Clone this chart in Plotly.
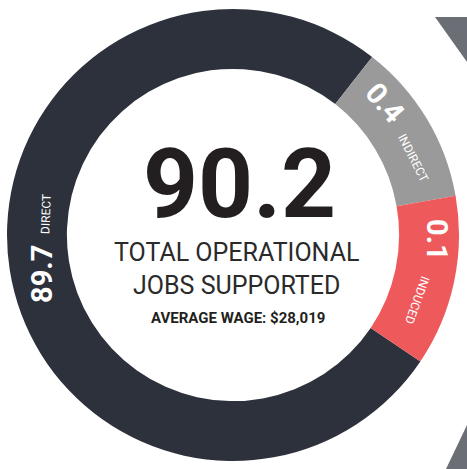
import plotly.graph_objects as go

W, H = 467, 469

# Data
categories = ["DIRECT", "INDIRECT", "INDUCED"]
jobs = [89.7, 0.4, 0.1]
total_jobs = 90.2
average_wage = "$28,019"
# The infographic does not draw arcs to scale; share of ring each segment occupies (degrees)
drawn_share = [274, 42, 44]

colors = ["#2c313b", "#9a9a9a", "#ee5a5c"]

fig = go.Figure()

cx, cy, R = 233, 235, 226
fig.add_trace(go.Pie(
    values=drawn_share,
    labels=categories,
    customdata=jobs,
    sort=False,
    direction="clockwise",
    rotation=124,
    hole=0.735,
    marker=dict(colors=colors, line=dict(width=0)),
    textinfo="none",
    hovertemplate="%{label}: %{customdata}<extra></extra>",
    showlegend=False,
    domain=dict(x=[(cx - R) / W, (cx + R) / W], y=[(H - cy - R) / H, (H - cy + R) / H]),
))

def px(x, y):
    return x / W, 1 - y / H

anns = []
def add(text, x, y, size, color="white", angle=0, family="Roboto", bold=False):
    ax, ay = px(x, y)
    t = f"<b>{text}</b>" if bold else text
    anns.append(dict(text=t, x=ax, y=ay, xref="paper", yref="paper", showarrow=False,
                     xanchor="center", yanchor="middle", textangle=angle,
                     font=dict(family=family, size=size, color=color)))

# Center text
add(f"{total_jobs}", 239, 184, 96, color="#231f20", bold=True)
add("TOTAL OPERATIONAL<br>JOBS SUPPORTED", 237, 269, 25, color="#2a2a2a")
add(f"AVERAGE WAGE: {average_wage}", 238, 318, 15, color="#231f20", bold=True)

# Ring labels
add(f"{jobs[0]}", 42, 274, 29, angle=-90, bold=True)
add(categories[0], 46, 214, 12, angle=-88)
add(f"{jobs[1]}", 385, 103, 29, angle=49, bold=True)
add(categories[1], 413, 158, 12, angle=63)
add(f"{jobs[2]}", 437, 240, 29, angle=90, bold=True)
add(categories[2], 417, 300, 12, angle=110)

# Decorative chevron pieces
shapes = [
    dict(type="path", xref="paper", yref="paper", layer="above",
         path=f"M {435/W},{1-17/H} L {1},{1-17/H} L {1},{1-62/H} Z",
         fillcolor="#6b6e75", line=dict(width=0)),
    dict(type="path", xref="paper", yref="paper", layer="above",
         path=f"M {1},{1-425/H} L {1},{0} L {446/W},{0} Z",
         fillcolor="#6b6e75", line=dict(width=0)),
]

fig.update_layout(
    width=W, height=H,
    margin=dict(l=0, r=0, t=0, b=0),
    paper_bgcolor="white", plot_bgcolor="white",
    annotations=anns, shapes=shapes,
)

fig.write_html("out.html", config={"displayModeBar": False},
               post_script="document.body.style.margin='0';document.body.style.overflow='hidden';")
